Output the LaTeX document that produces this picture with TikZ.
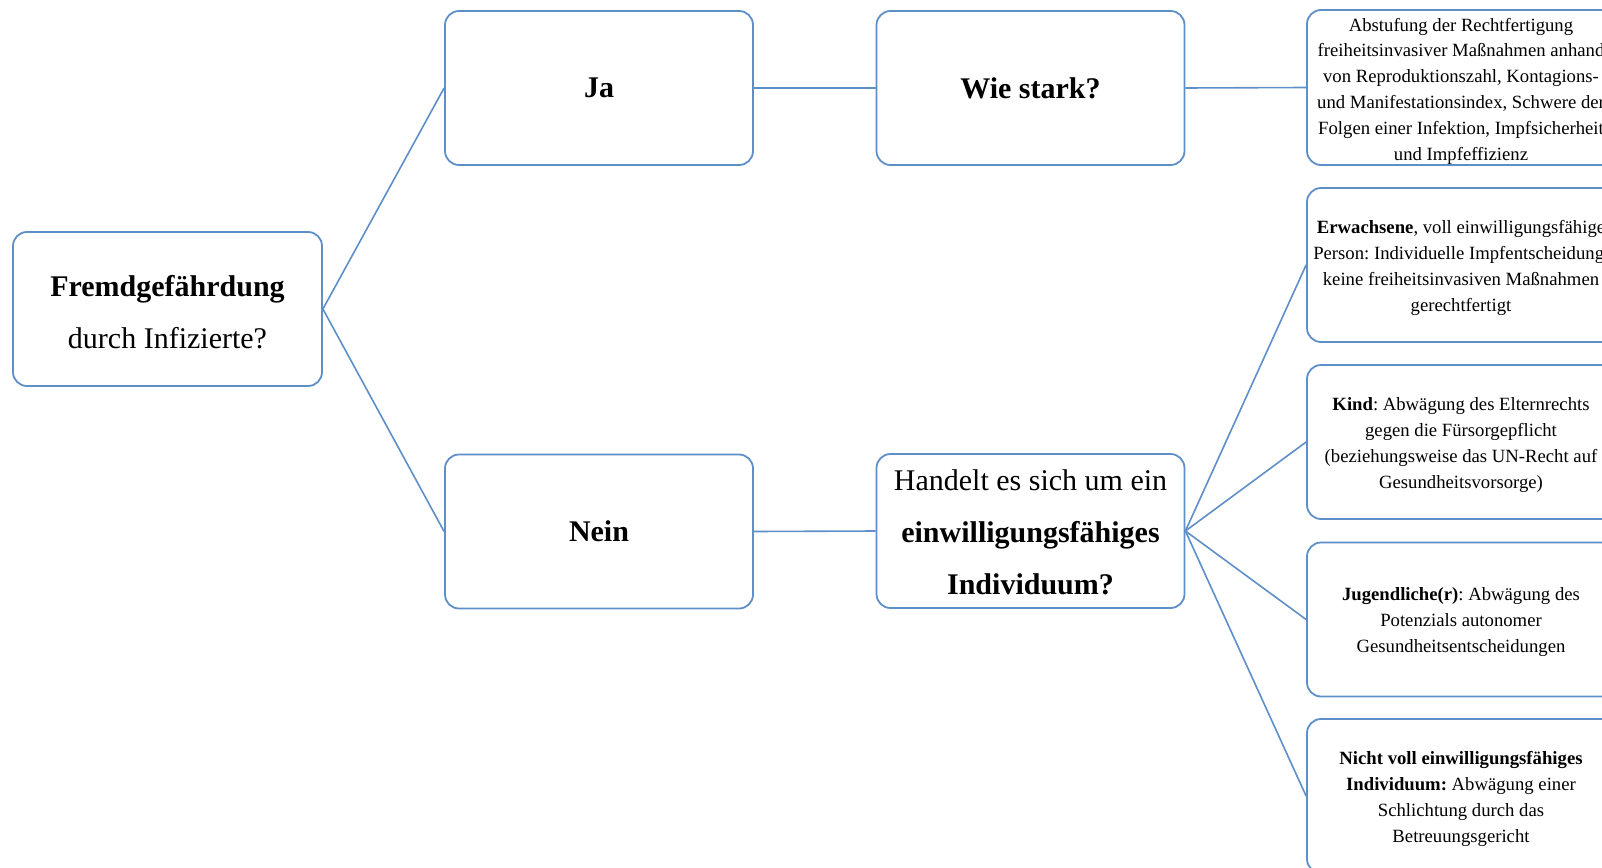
\documentclass[tikz,border=0pt]{standalone}
\usepackage{fontspec}
\setmainfont{Liberation Serif}
\definecolor{boxblue}{HTML}{5F8FC8}
\begin{document}
\frenchspacing
\begin{tikzpicture}[x=1pt,y=-1pt,
  box/.style={draw=boxblue, line width=1.8pt, rounded corners=14pt,
    minimum width=308pt, minimum height=154pt, align=center, inner sep=0pt, fill=white},
  txt/.style={align=center, inner sep=0pt},
  big/.style={font=\fontsize{30}{52}\selectfont},
  small/.style={font=\fontsize{18.7}{25.8}\selectfont},
  link/.style={draw=boxblue, line width=1.6pt}]
\useasboundingbox (0,0) rectangle (1602,867);
\clip (0,0) rectangle (1602,867);
\fill[white] (0,0) rectangle (1602,867);

\node[box,minimum width=309pt] (A) at (167.5,309) {};
\node[txt,big] (At) at ([yshift=-3pt]A.center) {\textbf{Fremdgefährdung}\\durch Infizierte?};
\node[box,big] (ja) at (599,88) {\textbf{Ja}};
\node[box,big] (wie) at (1030.5,88) {\textbf{Wie stark?}};
\node[box,big] (nein) at (599,531.5) {\textbf{Nein}};
\node[box] (hand) at (1030.5,531) {};
\node[txt,big] (handt) at ([yshift=-1.5pt]hand.center) {Handelt es sich um ein\\\textbf{einwilligungsfähiges}\\\textbf{Individuum?}};

\node[box,minimum height=155pt] (r1) at (1461,87.5) {};
\node[txt,small] (r1t) at ([yshift=-3.5pt]r1.center) {Abstufung der Rechtfertigung\\freiheitsinvasiver Maßnahmen anhand\\von Reproduktionszahl, Kontagions-\\und Manifestationsindex, Schwere der\\Folgen einer Infektion, Impfsicherheit\\und Impfeffizienz};
\node[box] (r2) at (1461,265) {};
\node[txt,small] (r2t) at ([yshift=-3pt]r2.center) {\textbf{Erwachsene}, voll einwilligungsfähige\\Person: Individuelle Impfentscheidung,\\keine freiheitsinvasiven Maßnahmen\\gerechtfertigt};
\node[box] (r3) at (1461,442) {};
\node[txt,small] (r3t) at ([yshift=-3pt]r3.center) {\textbf{Kind}: Abwägung des Elternrechts\\gegen die Fürsorgepflicht\\(beziehungsweise das UN-Recht auf\\Gesundheitsvorsorge)};
\node[box] (r4) at (1461,619.5) {};
\node[txt,small] (r4t) at ([yshift=-2.5pt]r4.center) {\textbf{Jugendliche(r)}: Abwägung des\\Potenzials autonomer\\Gesundheitsentscheidungen};
\node[box] (r5) at (1461,796) {};
\node[txt,small] (r5t) at ([yshift=-3pt]r5.center) {\textbf{Nicht voll einwilligungsfähiges}\\\textbf{Individuum:} Abwägung einer\\Schlichtung durch das\\Betreuungsgericht};

\draw[link] (A.east) -- (ja.west);
\draw[link] (A.east) -- (nein.west);
\draw[link] (ja.east) -- (wie.west);
\draw[link] (wie.east) -- (r1.west);
\draw[link] (nein.east) -- (hand.west);
\draw[link] (hand.east) -- (r2.west);
\draw[link] (hand.east) -- (r3.west);
\draw[link] (hand.east) -- (r4.west);
\draw[link] (hand.east) -- (r5.west);
\end{tikzpicture}
\end{document}
